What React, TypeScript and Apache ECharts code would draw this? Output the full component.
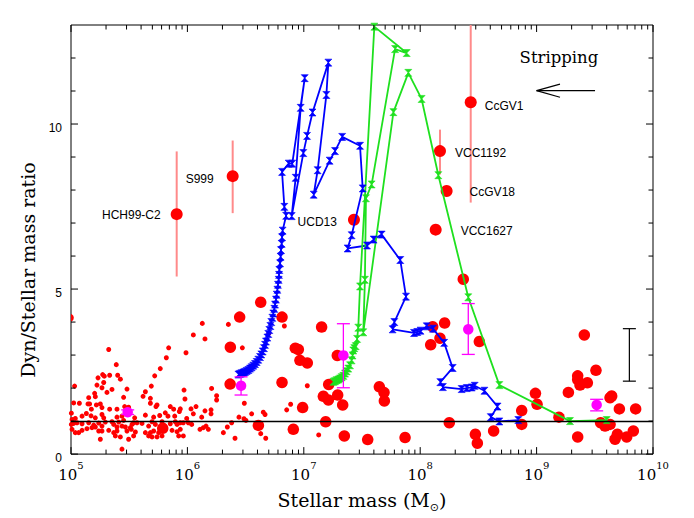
import React, { useEffect, useRef } from "react";
import * as echarts from "echarts";

// ---- axes / ticks ----
const xDecades = [5, 6, 7, 8, 9, 10]; // log10 of stellar mass, labels 10^n
const yTickLabels = [0, 5, 10];
const yMinorTicks = [1, 2, 3, 4, 6, 7, 8, 9, 11, 12];
const minorMultipliers = [2, 3, 4, 5, 6, 7, 8, 9];

// ---- data: [log10(M*/Msun), Mdyn/M*] ----
const smallDots = [
  [5.324, 3.17], [5.839, 3.22], [5.819, 2.92], [5.389, 2.71], [5.767, 2.59], [5.272, 2.41], [5.232, 2.31], [5.286, 2.36],
  [5.332, 2.39], [5.401, 2.39], [5.424, 2.27], [5.719, 2.37], [5.031, 2.06], [5.223, 2.09], [5.281, 2.17], [5.266, 2.01],
  [5.69, 2.06], [5.352, 1.96], [5.309, 1.87], [5.203, 1.84], [5.639, 1.89], [5.481, 1.97], [5.152, 1.71], [5.209, 1.74],
  [5.452, 1.72], [5.619, 1.75], [5.682, 1.69], [5.682, 1.54], [5.023, 1.55], [5.072, 1.54], [5.146, 1.52], [5.16, 1.52],
  [5.218, 1.49], [5.252, 1.52], [5.175, 1.36], [5.266, 1.41], [5.332, 1.36], [5.395, 1.36], [5.461, 1.44], [5.495, 1.42],
  [5.739, 1.49], [5.73, 1.44], [5.853, 1.44], [5.882, 1.36], [5.939, 1.37], [5.003, 1.24], [5.095, 1.15], [5.132, 1.23],
  [5.172, 1.16], [5.266, 1.2], [5.209, 1.1], [5.281, 1.1], [5.395, 1.12], [5.438, 1.15], [5.495, 1.2], [5.547, 1.1],
  [5.639, 1.18], [5.71, 1.12], [5.762, 1.17], [5.81, 1.25], [5.833, 1.15], [5.891, 1.15], [5.931, 1.29], [5.009, 1.05],
  [5.037, 1.08], [5.238, 0.94], [5.295, 0.97], [5.352, 0.98], [5.41, 0.97], [5.452, 1.02], [5.538, 0.95], [5.567, 0.95],
  [5.696, 0.98], [5.782, 0.98], [5.896, 0.98], [5.939, 0.95], [5.003, 0.9], [5.023, 0.93], [5.052, 0.95], [5.095, 0.92],
  [5.152, 0.95], [5.195, 0.88], [5.266, 0.85], [5.367, 0.9], [5.395, 0.82], [5.438, 0.85], [5.467, 0.82], [5.51, 0.8],
  [5.524, 0.9], [5.61, 0.93], [5.667, 0.85], [5.725, 0.9], [5.853, 0.92], [5.911, 0.9], [5.009, 0.75], [5.037, 0.65],
  [5.066, 0.65], [5.095, 0.72], [5.137, 0.77], [5.18, 0.8], [5.209, 0.82], [5.238, 0.7], [5.266, 0.7], [5.324, 0.72],
  [5.367, 0.65], [5.395, 0.7], [5.481, 0.7], [5.518, 0.75], [5.553, 0.67], [5.639, 0.65], [5.682, 0.65], [5.71, 0.7],
  [5.753, 0.65], [5.868, 0.72], [5.911, 0.68], [5.939, 0.75], [5.252, 0.45], [5.381, 0.55], [5.424, 0.52], [5.495, 0.45],
  [5.538, 0.55], [5.667, 0.55], [5.696, 0.52], [5.739, 0.52], [5.782, 0.55], [5.925, 0.55], [5.438, 0.15],
  [6.128, 3.96], [6.352, 3.93], [6.051, 3.61], [6.151, 3.49], [6.472, 3.22], [5.988, 3.07], [6.833, 3.88], [6.7, 3.66],
  [6.208, 1.99], [5.971, 1.94], [6.251, 1.77], [6.251, 1.64], [5.979, 1.67], [6.031, 1.37], [6.074, 1.44], [6.051, 1.22],
  [6.151, 1.31], [6.203, 1.34], [6.203, 1.22], [6.123, 1.12], [5.994, 1.08], [5.965, 0.95], [6.008, 0.95], [6.037, 0.9],
  [6.108, 0.75], [6.137, 0.8], [6.16, 0.85], [6.18, 0.75], [5.965, 0.55], [6.309, 0.65], [6.343, 0.82], [6.38, 0.95],
  [6.409, 0.48], [6.443, 1.12], [6.489, 1.54], [6.486, 1.07], [6.503, 1.02], [6.552, 1.22], [6.652, 1.27], [6.667, 1.2],
  [6.63, 0.62], [6.673, 0.48], [6.853, 1.34], [6.887, 1.51], [7.03, 2.07], [7.128, 0.58],
];

const bigDots = [
  [5.788, 0.78], [6.63, 4.6], [6.449, 4.15], [6.813, 4.15], [6.369, 3.24], [6.927, 3.21], [6.953, 3.17], [6.367, 2.12],
  [6.813, 2.17], [6.61, 0.87], [6.91, 0.75], [6.967, 2.84], [7.03, 2.76], [7.153, 3.85], [7.288, 2.99], [7.214, 2.11],
  [7.168, 1.75], [7.211, 1.64], [7.291, 1.79], [7.334, 1.49], [6.99, 1.41], [7.188, 0.98], [7.348, 0.55], [7.549, 0.44],
  [7.87, 0.5], [7.649, 2.04], [7.689, 1.87], [7.692, 1.61], [8.107, 3.86], [8.21, 3.97], [8.17, 3.51], [8.09, 3.31],
  [8.508, 3.41], [8.25, 0.95], [8.474, 0.6], [8.491, 0.33], [8.631, 0.7], [8.872, 1.32], [8.872, 0.9], [8.99, 1.84],
  [9.004, 1.51], [8.37, 5.3], [9.192, 1.12], [9.273, 1.87], [9.353, 2.37], [9.353, 2.26], [9.373, 2.09], [9.436, 2.16],
  [9.41, 3.61], [9.51, 2.54], [9.353, 0.52], [9.631, 1.71], [9.645, 1.76], [9.711, 1.37], [9.851, 1.37], [9.55, 0.95],
  [9.588, 0.85], [9.631, 0.9], [9.694, 0.6], [9.674, 0.45], [9.774, 0.52], [9.831, 0.7],
];
const edgeDots = [[4.99, 4.13]];

const namedLabels = ["HCH99-C2", "S999", "UCD13", "CcGV1", "VCC1192", "CcGV18", "VCC1627"];
const namedMass = [5.908, 6.389, 7.431, 8.434, 8.17, 8.227, 8.133];
const namedRatio = [7.27, 8.42, 7.1, 10.66, 9.18, 7.97, 6.8];
const namedErrLow = [5.38, 7.3, null, 7.62, 8.47, null, null];
const namedErrHigh = [9.17, 9.5, null, 13.5, 9.83, null, null];

const meanMass = [5.487, 6.461, 7.34, 8.413, 9.516];
const meanRatio = [1.27, 2.07, 2.99, 3.78, 1.49];
const meanErrLow = [1.2, 1.79, 2.01, 3.02, 1.31];
const meanErrHigh = [1.34, 2.34, 3.95, 4.56, 1.66];

const typicalError = [[9.797, 2.21, 3.8]];

const blueTrack = [
  [8.843, 1.03], [8.68, 0.99], [8.606, 1.12], [8.665, 1.44], [8.552, 1.92], [8.468, 2.07], [8.443, 2.02], [8.4, 2.0],
  [8.356, 1.97], [8.195, 2.03], [8.173, 2.18], [8.279, 2.61], [8.206, 3.37], [8.11, 3.8], [8.056, 3.87], [8.003, 3.74],
  [7.975, 3.7], [7.947, 3.67], [7.763, 3.78], [7.778, 4.0], [7.878, 4.77], [7.829, 5.88], [7.669, 6.65], [7.6, 6.5],
  [7.543, 6.32], [7.376, 6.23], [7.411, 6.63], [7.506, 8.05], [7.483, 9.34], [7.33, 9.61], [7.268, 9.18], [7.222, 8.89],
  [7.085, 7.86], [7.119, 8.6], [7.194, 10.88], [7.211, 11.86], [7.075, 10.35], [7.028, 9.64], [6.996, 9.12], [6.896, 7.21],
  [6.93, 8.37], [6.973, 10.49], [7.008, 11.39], [6.901, 8.8], [6.87, 8.8], [6.813, 8.55], [6.833, 7.49], [6.848, 7.22],
  [6.818, 6.77], [6.813, 6.57], [6.81, 6.37], [6.804, 6.18], [6.801, 5.98], [6.796, 5.78], [6.79, 5.58], [6.787, 5.43],
  [6.784, 5.28], [6.778, 5.13], [6.773, 4.98], [6.767, 4.83], [6.761, 4.68], [6.753, 4.53], [6.747, 4.4], [6.738, 4.26],
  [6.73, 4.13], [6.721, 4.0], [6.713, 3.88], [6.704, 3.76], [6.695, 3.64], [6.687, 3.53], [6.675, 3.41], [6.667, 3.31],
  [6.658, 3.21], [6.647, 3.11], [6.635, 3.02], [6.624, 2.94], [6.609, 2.86], [6.595, 2.79], [6.581, 2.73], [6.566, 2.68],
  [6.552, 2.63], [6.538, 2.59], [6.524, 2.55], [6.509, 2.52], [6.495, 2.49], [6.481, 2.47], [6.466, 2.45], [6.452, 2.43],
  [6.438, 2.41],
];

const greenTrack = [
  [9.602, 1.03], [9.287, 1.0], [8.68, 2.09], [8.413, 4.75], [8.156, 8.45], [8.012, 10.76], [7.898, 11.55], [7.77, 10.36],
  [7.511, 3.69], [7.525, 5.28], [7.534, 7.75], [7.583, 8.17], [7.784, 12.27], [7.884, 12.15], [7.606, 12.95], [7.483, 5.08],
  [7.468, 3.83], [7.458, 3.49], [7.446, 3.27], [7.434, 3.21], [7.425, 3.14], [7.419, 2.99], [7.411, 2.84], [7.397, 2.69],
  [7.382, 2.59], [7.368, 2.51], [7.354, 2.44], [7.34, 2.37], [7.325, 2.33], [7.311, 2.29], [7.297, 2.26], [7.282, 2.24],
  [7.268, 2.21], [7.254, 2.19],
];

// annotation anchors (data coordinates)
const arrowTail = [9.502, 11.01];
const arrowHead = [9.0, 11.01];
const arrowBarb = [9.201, 0.2];
const strippingAnchor = [9.192, 12.03];

// label placement (style, not data)
const labelPlacement: Record<string, { position: string; distance: number; dy: number }> = {
  "HCH99-C2": { position: "left", distance: 10, dy: 1 },
  S999: { position: "left", distance: 13, dy: 3 },
  UCD13: { position: "left", distance: 11, dy: 2 },
  CcGV1: { position: "right", distance: 8, dy: 4 },
  VCC1192: { position: "right", distance: 9, dy: 2 },
  CcGV18: { position: "right", distance: 17, dy: 1 },
  VCC1627: { position: "right", distance: 19, dy: 1 },
};

const RED = "#ff0000";
const PINK = "#ff8a8a";
const MAGENTA = "#ff00ff";
const BLUE = "#0000ff";
const GREEN = "#1fe01f";
const SERIF = "'DejaVu Serif', serif";
const SANS = "'Liberation Sans', Arial, sans-serif";
const hourglass = "path://M0,0L10,0L0,10L10,10Z";

function errorBarRenderer(color: string, width: number, capHalf: number) {
  return (params: any, api: any) => {
    const x = api.value(0);
    const lo = api.coord([x, api.value(1)]);
    const hi = api.coord([x, api.value(2)]);
    const style = { stroke: color, lineWidth: width };
    const children: any[] = [
      { type: "line", shape: { x1: lo[0], y1: lo[1], x2: hi[0], y2: hi[1] }, style },
    ];
    if (capHalf > 0) {
      children.push({ type: "line", shape: { x1: lo[0] - capHalf, y1: lo[1], x2: lo[0] + capHalf, y2: lo[1] }, style });
      children.push({ type: "line", shape: { x1: hi[0] - capHalf, y1: hi[1], x2: hi[0] + capHalf, y2: hi[1] }, style });
    }
    return { type: "group", children };
  };
}

export default function App() {
  const ref = useRef<HTMLDivElement>(null);

  useEffect(() => {
    const chart = echarts.init(ref.current as HTMLDivElement, null, { renderer: "svg" });

    const tickData: number[][] = [];
    for (let n = 5; n < 10; n++) {
      for (const k of minorMultipliers) tickData.push([n + Math.log10(k), 0, 4.5]);
    }
    for (const d of xDecades) tickData.push([d, 0, 7]);
    for (const v of yMinorTicks) tickData.push([v, 1, 4.5]);
    for (const v of yTickLabels) tickData.push([v, 1, 7]);

    const namedData = namedLabels.map((n, i) => {
      const p = labelPlacement[n];
      return {
        name: n,
        value: [namedMass[i], namedRatio[i]],
        label: { position: p.position, distance: p.distance, offset: [0, p.dy] },
      };
    });
    const namedErr = namedLabels
      .map((_, i) => [namedMass[i], namedErrLow[i], namedErrHigh[i]])
      .filter((r) => r[1] !== null);
    const meanData = meanMass.map((m, i) => [m, meanRatio[i]]);
    const meanErr = meanMass.map((m, i) => [m, meanErrLow[i], meanErrHigh[i]]);

    const trackMarker = (color: string) => ({
      color,
      borderColor: color,
      borderWidth: 0.6,
      opacity: 1,
    });

    const option: any = {
      animation: false,
      backgroundColor: "#ffffff",
      grid: { left: 71, right: 41, top: 25, bottom: 58, show: true, borderColor: "#000", borderWidth: 1, backgroundColor: "transparent" },
      xAxis: {
        type: "value",
        min: 5,
        max: 10,
        interval: 1,
        axisLine: { show: false },
        axisTick: { show: false },
        splitLine: { show: false },
        axisLabel: {
          margin: 6,
          formatter: (v: number) => (xDecades.includes(v) ? `{b|10}{s|${v}}` : ""),
          rich: {
            b: { fontFamily: SERIF, fontSize: 15, lineHeight: 22, verticalAlign: "bottom", color: "#000" },
            s: { fontFamily: SERIF, fontSize: 10, lineHeight: 22, verticalAlign: "top", color: "#000" },
          },
        },
        name: "Stellar mass (M{sub|⊙})",
        nameLocation: "middle",
        nameGap: 23,
        nameTextStyle: {
          fontFamily: SERIF,
          fontSize: 19,
          color: "#000",
          lineHeight: 26,
          rich: { sub: { fontFamily: "'DejaVu Sans', sans-serif", fontSize: 11, lineHeight: 26, verticalAlign: "bottom", color: "#000" } },
        },
      },
      yAxis: {
        type: "value",
        min: 0,
        max: 13,
        interval: 5,
        axisLine: { show: false },
        axisTick: { show: false },
        splitLine: { show: false },
        axisLabel: {
          margin: 9,
          formatter: (v: number) => (yTickLabels.includes(v) ? `{n|${v}}` : ""),
          rich: {
            n: { fontFamily: SANS, fontSize: 12, color: "#000", padding: [8, 0, 0, 0] },
          },
        },
      },
      graphic: [
        {
          type: "text",
          x: 28,
          y: 270,
          rotation: Math.PI / 2,
          style: { text: "Dyn/Stellar mass ratio", fontFamily: SERIF, fontSize: 19, fill: "#000", align: "center", verticalAlign: "middle" },
        },
      ],
      series: [
        {
          name: "ticks",
          type: "custom",
          silent: true,
          z: 10,
          data: tickData,
          renderItem: (params: any, api: any) => {
            const v = api.value(0);
            const kind = api.value(1);
            const len = api.value(2);
            const style = { stroke: "#000", lineWidth: 1 };
            if (kind === 0) {
              const b = api.coord([v, 0]);
              const t = api.coord([v, 13]);
              return {
                type: "group",
                children: [
                  { type: "line", shape: { x1: b[0], y1: b[1], x2: b[0], y2: b[1] - len }, style },
                  { type: "line", shape: { x1: t[0], y1: t[1], x2: t[0], y2: t[1] + len }, style },
                ],
              };
            }
            const l = api.coord([5, v]);
            const r = api.coord([10, v]);
            return {
              type: "group",
              children: [
                { type: "line", shape: { x1: l[0], y1: l[1], x2: l[0] + len, y2: l[1] }, style },
                { type: "line", shape: { x1: r[0], y1: r[1], x2: r[0] - len, y2: r[1] }, style },
              ],
            };
          },
        },
        {
          name: "named errors",
          type: "custom",
          clip: true,
          z: 1,
          data: namedErr,
          renderItem: errorBarRenderer(PINK, 2, 0),
        },
        {
          name: "edge",
          type: "custom",
          clip: true,
          z: 2,
          data: edgeDots,
          renderItem: (params: any, api: any) => {
            const p = api.coord([api.value(0), api.value(1)]);
            return { type: "circle", shape: { cx: p[0], cy: p[1], r: 4 }, style: { fill: RED } };
          },
        },
        {
          name: "small",
          type: "scatter",
          z: 2,
          symbolSize: 5,
          itemStyle: { color: RED, opacity: 1 },
          data: smallDots,
          markLine: {
            silent: true,
            symbol: "none",
            label: { show: false },
            lineStyle: { color: "#000", width: 1.3, type: "solid", opacity: 1 },
            data: [{ yAxis: 1 }],
          },
        },
        {
          name: "big",
          type: "scatter",
          z: 3,
          symbolSize: 11.5,
          itemStyle: { color: RED, opacity: 1 },
          data: bigDots,
        },
        {
          name: "named",
          type: "scatter",
          z: 3,
          symbolSize: 12,
          itemStyle: { color: RED, opacity: 1 },
          data: namedData,
          label: { show: true, formatter: "{b}", fontFamily: SANS, fontSize: 12, color: "#000" },
        },
        {
          name: "blue",
          type: "line",
          z: 4,
          clip: true,
          data: blueTrack,
          symbol: hourglass,
          symbolSize: [7, 7],
          showSymbol: true,
          lineStyle: { color: BLUE, width: 1.8 },
          itemStyle: trackMarker(BLUE),
        },
        {
          name: "green",
          type: "line",
          z: 4,
          clip: true,
          data: greenTrack,
          symbol: hourglass,
          symbolSize: [7, 7],
          showSymbol: true,
          lineStyle: { color: GREEN, width: 1.8 },
          itemStyle: trackMarker(GREEN),
        },
        {
          name: "mean errors",
          type: "custom",
          z: 5,
          data: meanErr,
          renderItem: errorBarRenderer(MAGENTA, 1.3, 6.5),
        },
        {
          name: "means",
          type: "scatter",
          z: 6,
          symbolSize: 10.5,
          itemStyle: { color: MAGENTA, opacity: 1 },
          data: meanData,
        },
        {
          name: "typical error",
          type: "custom",
          z: 6,
          data: typicalError,
          renderItem: errorBarRenderer("#000", 1.2, 6.5),
        },
        {
          name: "annotation",
          type: "custom",
          z: 7,
          silent: true,
          data: [[arrowHead[0], arrowHead[1]]],
          renderItem: (params: any, api: any) => {
            const tail = api.coord(arrowTail);
            const head = api.coord(arrowHead);
            const b1 = api.coord([arrowBarb[0], arrowHead[1] + arrowBarb[1]]);
            const b2 = api.coord([arrowBarb[0], arrowHead[1] - arrowBarb[1]]);
            const txt = api.coord(strippingAnchor);
            const style = { stroke: "#000", lineWidth: 1.2 };
            return {
              type: "group",
              children: [
                { type: "line", shape: { x1: tail[0], y1: tail[1], x2: head[0], y2: head[1] }, style },
                { type: "line", shape: { x1: head[0], y1: head[1], x2: b1[0], y2: b1[1] }, style },
                { type: "line", shape: { x1: head[0], y1: head[1], x2: b2[0], y2: b2[1] }, style },
                {
                  type: "text",
                  x: txt[0],
                  y: txt[1],
                  style: { text: "Stripping", fontFamily: SERIF, fontSize: 16.5, fill: "#000", align: "center", verticalAlign: "middle" },
                },
              ],
            };
          },
        },
      ],
    };

    chart.setOption(option);
    return () => chart.dispose();
  }, []);

  return (
    <div
      ref={ref}
      style={{ position: "fixed", left: 0, top: 0, width: 694, height: 518, background: "#fff" }}
    />
  );
}
